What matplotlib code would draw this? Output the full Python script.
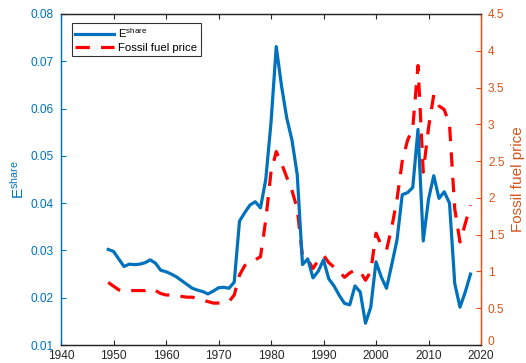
import matplotlib
matplotlib.use("Agg")
import matplotlib.pyplot as plt
import matplotlib.transforms as mtransforms
import numpy as np

plt.rcParams['font.family'] = ['Liberation Sans', 'DejaVu Sans']
plt.rcParams['mathtext.fontset'] = 'custom'
plt.rcParams['mathtext.rm'] = 'Liberation Sans'
plt.rcParams['mathtext.it'] = 'Liberation Sans'

years = list(range(1949, 2019))
e_share = [0.0302, 0.0298, 0.0282, 0.0266, 0.0271, 0.0270, 0.0271, 0.0274, 0.0280, 0.0273,
           0.0258, 0.0255, 0.0250, 0.0244, 0.0236, 0.0228, 0.0220, 0.0216, 0.0213, 0.0208,
           0.0214, 0.0221, 0.0222, 0.0220, 0.0233, 0.0362, 0.0380, 0.0396, 0.0403, 0.0390,
           0.0450, 0.0570, 0.0731, 0.0648, 0.0580, 0.0533, 0.0460, 0.0270, 0.0282, 0.0242,
           0.0256, 0.0280, 0.0240, 0.0225, 0.0205, 0.0188, 0.0185, 0.0225, 0.0212, 0.0146,
           0.0180, 0.0276, 0.0244, 0.0220, 0.0270, 0.0322, 0.0418, 0.0422, 0.0433, 0.0556,
           0.0320, 0.0408, 0.0458, 0.0410, 0.0424, 0.0400, 0.0230, 0.0180, 0.0212, 0.0250]
fuel_price = [0.85, 0.80, 0.75, 0.73, 0.74, 0.74, 0.74, 0.74, 0.77, 0.74,
              0.70, 0.68, 0.68, 0.67, 0.66, 0.65, 0.65, 0.63, 0.61, 0.59,
              0.57, 0.57, 0.58, 0.59, 0.68, 0.95, 1.08, 1.12, 1.16, 1.20,
              1.70, 2.35, 2.63, 2.47, 2.28, 2.10, 1.85, 1.20, 1.16, 1.04,
              1.15, 1.22, 1.12, 1.06, 1.00, 0.92, 0.98, 1.02, 1.00, 0.88,
              1.00, 1.52, 1.36, 1.29, 1.60, 1.98, 2.50, 2.78, 2.95, 3.80,
              2.35, 2.95, 3.40, 3.25, 3.20, 3.00, 1.85, 1.40, 1.65, 1.90]

x_ticks = [1940, 1950, 1960, 1970, 1980, 1990, 2000, 2010, 2020]
left_ticks = [0.01, 0.02, 0.03, 0.04, 0.05, 0.06, 0.07, 0.08]
right_ticks = [0, 0.5, 1, 1.5, 2, 2.5, 3, 3.5, 4, 4.5]
right_labels = ['0', '0.5', '1', '1.5', '2', '2.5', '3', '3.5', '4', '4.5']

blue = '#0072BD'
orange = '#D95319'
gray = '#262626'

fig = plt.figure(figsize=(5.26, 3.63), dpi=100)
ax = fig.add_axes([61/526, 18/363, 420/526, 331/363])
ax2 = ax.twinx()

l1, = ax.plot(years, e_share, color=blue, lw=2.3, label='E$^{\\mathrm{share}}$', zorder=3)
l2, = ax2.plot(years, fuel_price, color='red', lw=2.3, ls=(0, (4.5, 3.5)), label='Fossil fuel price', zorder=2)
ax.set_zorder(ax2.get_zorder() + 1)
ax.patch.set_visible(False)

ax.set_xlim(1940, 2020)
ax.set_ylim(0.01, 0.08)
ax2.set_ylim(0, 4.5)
ax.set_xticks(x_ticks)
ax.set_xticklabels([str(v) for v in x_ticks])
ax.set_yticks(left_ticks)
ax.set_yticklabels(['%.2f' % v for v in left_ticks])
ax2.set_yticks(right_ticks)
ax2.set_yticklabels(right_labels)

fs = 8.6
ax.tick_params(axis='x', direction='in', top=True, length=3.5, width=0.8, colors=gray, labelsize=fs, pad=3.5)
ax.tick_params(axis='y', direction='in', length=3.5, width=0.8, colors=blue, labelsize=fs, pad=5)
ax2.tick_params(axis='y', direction='in', length=3.5, width=0.8, colors=orange, labelsize=fs, pad=5)

# nudge the lowest right-hand label up slightly so it clears the "2020" label
lbl0 = ax2.get_yticklabels()[0]
lbl0.set_transform(lbl0.get_transform() + mtransforms.ScaledTranslation(0, 3/72, fig.dpi_scale_trans))

for a in (ax, ax2):
    a.spines['top'].set_color(gray)
    a.spines['bottom'].set_color(gray)
    a.spines['left'].set_color(blue)
    a.spines['right'].set_color(orange)
    for s in a.spines.values():
        s.set_linewidth(0.9)

ax.set_ylabel('E$^{\\mathrm{share}}$', color=blue, fontsize=11, labelpad=3)
ax2.set_ylabel('Fossil fuel price', color=orange, fontsize=11, labelpad=5)

leg = ax.legend(handles=[l1, l2], loc='upper left', bbox_to_anchor=(0.026, 0.973),
                fontsize=8.2, frameon=True, fancybox=False, edgecolor='black',
                handlelength=3.4, handletextpad=0.35, borderpad=0.3, labelspacing=0.25,
                borderaxespad=0)
leg.get_frame().set_linewidth(0.8)

fig.savefig('out.png', dpi=100)
